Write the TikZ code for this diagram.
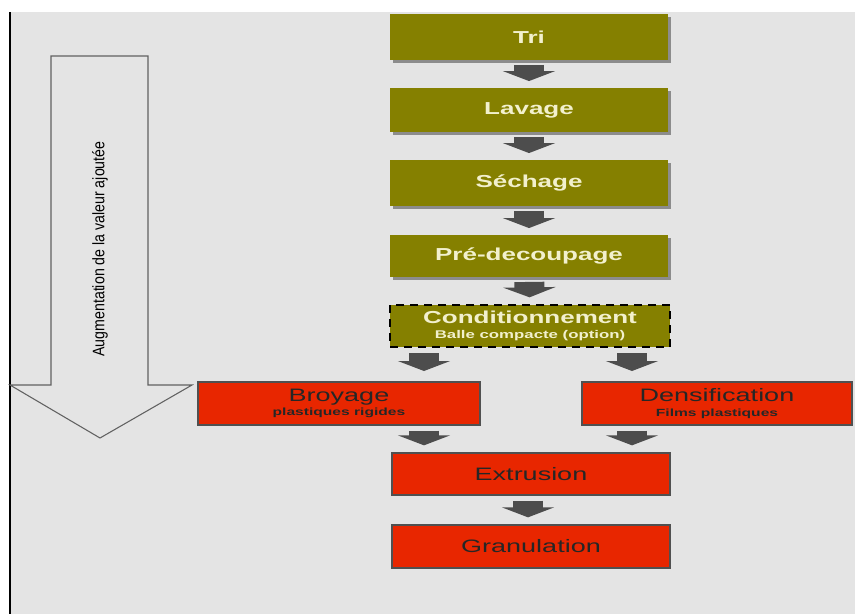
\documentclass[tikz,border=0pt]{standalone}
\usepackage{fontspec}
\setmainfont{Liberation Sans}
\newfontfamily\boxfont[FakeStretch=1.5]{Liberation Sans}
\newfontfamily\sidefont[FakeStretch=0.85]{Liberation Sans}
\usetikzlibrary{arrows.meta, shadows}
\definecolor{bggray}{RGB}{228,228,228}
\definecolor{olivebox}{RGB}{133,128,0}
\definecolor{creamtext}{RGB}{242,240,205}
\definecolor{redbox}{RGB}{232,38,0}
\definecolor{edgegray}{RGB}{80,80,80}
\definecolor{arrowgray}{RGB}{77,77,77}
\definecolor{shadowgray}{RGB}{140,140,140}

\begin{document}
\begin{tikzpicture}[x=0.75pt, y=-0.75pt,
  sz/.style 2 args={minimum width=#1*0.75pt, minimum height=#2*0.75pt},
  stage/.style={fill=olivebox, text=creamtext, inner sep=0pt, align=center,
    font=\boxfont\bfseries\fontsize{13}{15}\selectfont,
    drop shadow={shadow xshift=2.5pt, shadow yshift=-2pt, fill=shadowgray, opacity=1}},
  option/.style={fill=olivebox, text=creamtext, inner sep=0pt, align=center,
    draw=black, line width=1.5pt, dash pattern=on 6pt off 4.5pt,
    font=\boxfont\bfseries\fontsize{13}{15}\selectfont},
  process/.style={fill=redbox, draw=edgegray, line width=1.5pt, text=black!85,
    inner sep=0pt, align=center, font=\boxfont\fontsize{13.5}{15}\selectfont},
  flow/.style={draw=arrowgray, line width=22.5pt,
    -{Triangle[width=39pt, length=7.5pt]}, shorten <=3.5pt, shorten >=5pt}]

  % page and background
  \useasboundingbox (0,0) rectangle (855,614);
  \fill[bggray] (10,12) rectangle (855,614);
  \draw[black, line width=1.5pt] (10,12) -- (10,614);

  % value arrow on the left
  \draw[edgegray!90, line width=0.8pt]
    (51,56) -- (148,56) -- (148,385) -- (192,385) -- (100,438)
    -- (10,385) -- (51,385) -- cycle;
  \node[rotate=90, font=\sidefont\fontsize{12.5}{14}\selectfont] (sidelabel) at (100,249)
    {Augmentation de la valeur ajoutée};

  % stages
  \node[stage, sz={278}{46}] (tri)  at (529,37)  {Tri};
  \node[stage, sz={278}{44}] (lav)  at (529,110) {Lavage};
  \node[stage, sz={278}{46}] (sech) at (529,183) {Séchage};
  \node[stage, sz={278}{42}] (pre)  at (529,256) {Pré-decoupage};
  \node[option, sz={280}{42}] (cond) at (530,326)
    {Conditionnement\\[-4pt]{\bfseries\fontsize{8.4}{9}\selectfont Balle compacte (option)}};

  \node[process, sz={282}{43}] (broy) at (339,403.5)
    {Broyage\\[-4pt]{\bfseries\fontsize{7.8}{9}\selectfont plastiques rigides}};
  \node[process, sz={270}{43}] (dens) at (717,403.5)
    {Densification\\[-4pt]{\bfseries\fontsize{7.8}{9}\selectfont Films plastiques}};
  \node[process, sz={278}{42}] (extr) at (531,474) {Extrusion};
  \node[process, sz={278}{43}] (gran) at (531,546.5) {Granulation};

  \coordinate (colL) at (424,0);
  \coordinate (colR) at (632,0);
  \coordinate (colC) at (528,0);

  \draw[flow] (tri) -- (lav);
  \draw[flow] (lav) -- (sech);
  \draw[flow] (sech) -- (pre);
  \draw[flow] (pre) -- (cond);
  \draw[flow, shorten <=4pt, shorten >=7.5pt] (cond.south -| colL) -- (broy.north -| colL);
  \draw[flow, shorten <=4pt, shorten >=7.5pt] (cond.south -| colR) -- (dens.north -| colR);
  \draw[flow] (broy.south -| colL) -- (extr.north -| colL);
  \draw[flow] (dens.south -| colR) -- (extr.north -| colR);
  \draw[flow] (extr.south -| colC) -- (gran.north -| colC);
\end{tikzpicture}
\end{document}
